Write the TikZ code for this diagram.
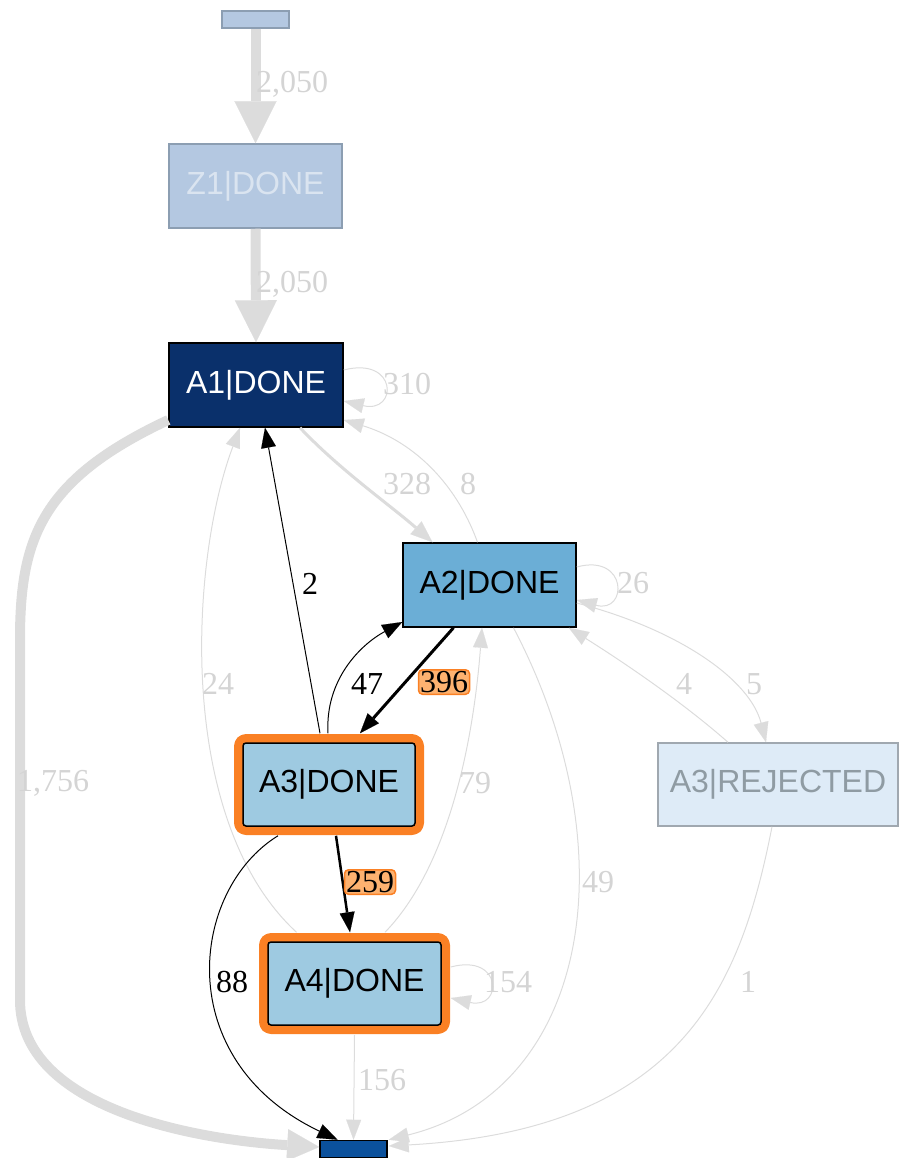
\documentclass[tikz,border=0pt]{standalone}
\usepackage{fontspec}
\setmainfont{Liberation Serif}
\newfontfamily\nodefont{Liberation Sans}
\usetikzlibrary{arrows.meta,calc}
\definecolor{egray}{RGB}{220,220,220}
\definecolor{lgray}{RGB}{212,212,212}
\definecolor{fadefill}{RGB}{180,200,225}
\definecolor{fadeborder}{RGB}{140,158,178}
\definecolor{fadetext}{RGB}{218,228,240}
\definecolor{navy}{RGB}{10,48,107}
\definecolor{midblue}{RGB}{107,174,214}
\definecolor{lightblue}{RGB}{158,202,225}
\definecolor{paleblue}{RGB}{222,235,247}
\definecolor{paletext}{RGB}{143,155,163}
\definecolor{paleborder}{RGB}{160,168,176}
\definecolor{endblue}{RGB}{11,81,156}
\definecolor{hiorange}{RGB}{250,128,36}
\definecolor{loorange}{RGB}{253,178,112}
\tikzset{
  box/.style={rectangle, inner sep=0pt, font=\nodefont\fontsize{32}{38}\selectfont},
  hibox/.style={box, rounded corners=3pt, draw=black, line width=1.5pt, fill=lightblue,
     preaction={draw=hiorange, line width=18pt, line join=round}},
  tipS/.style={-{Triangle[length=20pt,width=15pt,line width=0.1pt]}},
  gedge/.style={draw=egray, line width=1pt, tipS},
  bedge/.style={draw=black, line width=1pt, tipS},
  lab/.style={text=lgray, font=\fontsize{32}{36}\selectfont, inner sep=0pt},
  blab/.style={text=black, font=\fontsize{32}{36}\selectfont, inner sep=0pt},
  olab/.style={text=black, font=\fontsize{32}{36}\selectfont, fill=loorange, draw=hiorange,
     line width=1.5pt, rounded corners=4pt, inner sep=1.5pt}
}
\begin{document}
\begin{tikzpicture}[x=1pt,y=-1pt]
\useasboundingbox (0,0) rectangle (902,1158);
% nodes
\node[box, draw=fadeborder, fill=fadefill, line width=1.5pt, minimum width=67pt, minimum height=17pt] (start) at (255.5,19.5) {};
\node[box, draw=fadeborder, fill=fadefill, text=fadetext, line width=1.5pt, minimum width=173pt, minimum height=84pt] (Z1) at (255.5,186) {Z1|DONE};
\node[box, draw=black, fill=navy, text=white, line width=1.5pt, minimum width=174pt, minimum height=84pt] (A1) at (256,385) {A1|DONE};
\node[box, draw=black, fill=midblue, text=black, line width=1.5pt, minimum width=173pt, minimum height=84pt] (A2) at (489.5,585) {A2|DONE};
\node[hibox, minimum width=172pt, minimum height=83pt] (A3) at (329,784.5) {A3|DONE};
\node[hibox, minimum width=173pt, minimum height=83pt] (A4) at (354.5,983.5) {A4|DONE};
\node[box, draw=paleborder, fill=paleblue, text=paletext, line width=1.5pt, minimum width=240pt, minimum height=83pt] (REJ) at (778,784.5) {A3|REJECTED};
\node[box, draw=black, fill=endblue, line width=1.5pt, minimum width=67pt, minimum height=17pt] (end) at (353.5,1149) {};

% thick gray edges
\draw[draw=egray, line width=10pt, -{Triangle[length=42pt,width=42pt,line width=0.1pt]}] (start.south) -- (Z1.north);
\draw[draw=egray, line width=10pt, -{Triangle[length=42pt,width=42pt,line width=0.1pt]}] (Z1.south) -- (A1.north);
\draw[draw=egray, line width=10pt, -{Triangle[length=32pt,width=32pt,line width=0.1pt]}]
  ($(A1.west)+(0,35)$) .. controls (40,480) and (20,540) .. (20,640) -- (20,1000)
  .. controls (20,1110) and (200,1140) .. ($(end.west)+(0,-2)$);
\draw[draw=egray, line width=3pt, -{Triangle[length=22pt,width=17pt,line width=0.1pt]}]
  ($(A1.south)+(44,0)$) .. controls (340,470) and (390,505) .. ($(A2.north)+(-57,0)$);

% thin gray edges
\draw[gedge] ($(A1.east)+(0,-15)$) .. controls (398,356) and (398,414) .. ($(A1.east)+(0,16)$);
\draw[gedge] ($(A2.north)+(-12,0)$) .. controls (455,480) and (410,440) .. ($(A1.east)+(0,35)$);
\draw[gedge] ($(A4.north)+(-58,-9)$) .. controls (175,820) and (190,560) .. ($(A1.south)+(-16,0)$);
\draw[gedge] ($(A4.north)+(30.5,-9)$) .. controls (455,860) and (475,720) .. ($(A2.south)+(-7.5,0)$);
\draw[gedge] ($(A2.south)+(24,0)$) .. controls (630,850) and (590,1090) .. ($(end.north east)+(1,0)$);
\draw[gedge] ($(A2.east)+(0,-18)$) .. controls (628,553) and (628,614) .. ($(A2.east)+(0,15)$);
\draw[gedge] ($(REJ.north)+(-50,0)$) .. controls (680,700) and (620,660) .. ($(A2.south east)+(-8,0)$);
\draw[gedge] ($(A2.east)+(0,18)$) .. controls (680,630) and (750,680) .. ($(REJ.north)+(-12,0)$);
\draw[gedge] ($(REJ.south)+(-6,0)$) .. controls (740,990) and (680,1130) .. ($(end.east)+(1,-3)$);
\draw[gedge] ($(A4.east)+(9,-16.5)$) .. controls (503,953) and (503,1010) .. ($(A4.east)+(9,14.5)$);
\draw[gedge] ($(A4.south)+(0,9)$) -- (end.north);

% black edges
\draw[bedge] ($(A3.north)+(-9,-9)$) -- ($(A1.south)+(9,0)$);
\draw[bedge] ($(A3.north)+(-1,-9)$) .. controls (325,680) and (360,645) .. ($(A2.west)+(0,37)$);
\draw[bedge, line width=3pt] ($(A2.south)+(-36,0)$) -- ($(A3.north)+(31,-9)$);
\draw[bedge, line width=2.5pt] ($(A3.south)+(7,9)$) -- ($(A4.north)+(-4.5,-9)$);
\draw[bedge] ($(A3.south)+(-51,9)$) .. controls (190,890) and (170,1060) .. ($(end.north)+(-16,0)$);

% labels
\node[lab] (l1) at (292,84) {2,050};
\node[lab] (l2) at (292,284) {2,050};
\node[lab] (l3) at (407,384) {310};
\node[lab] (l4) at (407,484) {328};
\node[lab] (l5) at (468,484) {8};
\node[blab] (l6) at (310,584) {2};
\node[lab] (l7) at (633,583) {26};
\node[lab] (l8) at (218,684) {24};
\node[blab] (l9) at (367,684) {47};
\node[olab] (l10) at (444,682) {396};
\node[lab] (l11) at (684,684) {4};
\node[lab] (l12) at (754,684) {5};
\node[lab] (l13) at (53,783) {1,756};
\node[lab] (l14) at (475,783) {79};
\node[olab] (l15) at (370,882) {259};
\node[lab] (l16) at (598,882) {49};
\node[blab] (l17) at (232,982) {88};
\node[lab] (l18) at (508,982) {154};
\node[lab] (l19) at (748,982) {1};
\node[lab] (l20) at (382,1080) {156};
\end{tikzpicture}
\end{document}
